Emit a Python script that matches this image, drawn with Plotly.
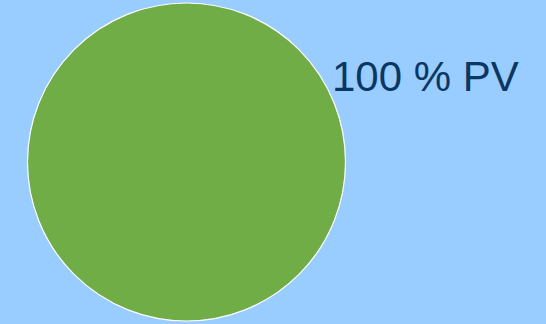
import plotly.graph_objects as go

# Share of energy sources
sources = ["PV"]
shares = [100]

W, H = 546, 324
BG = "#99CCFF"

fig = go.Figure(
    go.Pie(
        labels=sources,
        values=shares,
        marker=dict(colors=["#70AD47"], line=dict(color="#FFFFFF", width=1.2)),
        textinfo="none",
        hoverinfo="label+percent",
        sort=False,
        domain=dict(x=[27.5 / W, 345.5 / W], y=[3 / H, 321 / H]),
        showlegend=False,
    )
)

total = sum(shares)
label_text = f"{round(shares[0] / total * 100)} % {sources[0]}"

fig.add_annotation(
    text=label_text,
    xref="paper", yref="paper",
    x=330 / W, y=1 - 77 / H,
    xanchor="left", yanchor="middle",
    showarrow=False,
    font=dict(family="Liberation Sans, Arial, sans-serif", size=42, color="#0B3763"),
)

fig.update_layout(
    width=W, height=H,
    margin=dict(l=0, r=0, t=0, b=0),
    paper_bgcolor=BG,
    plot_bgcolor=BG,
)

fig.write_html("out.html")
